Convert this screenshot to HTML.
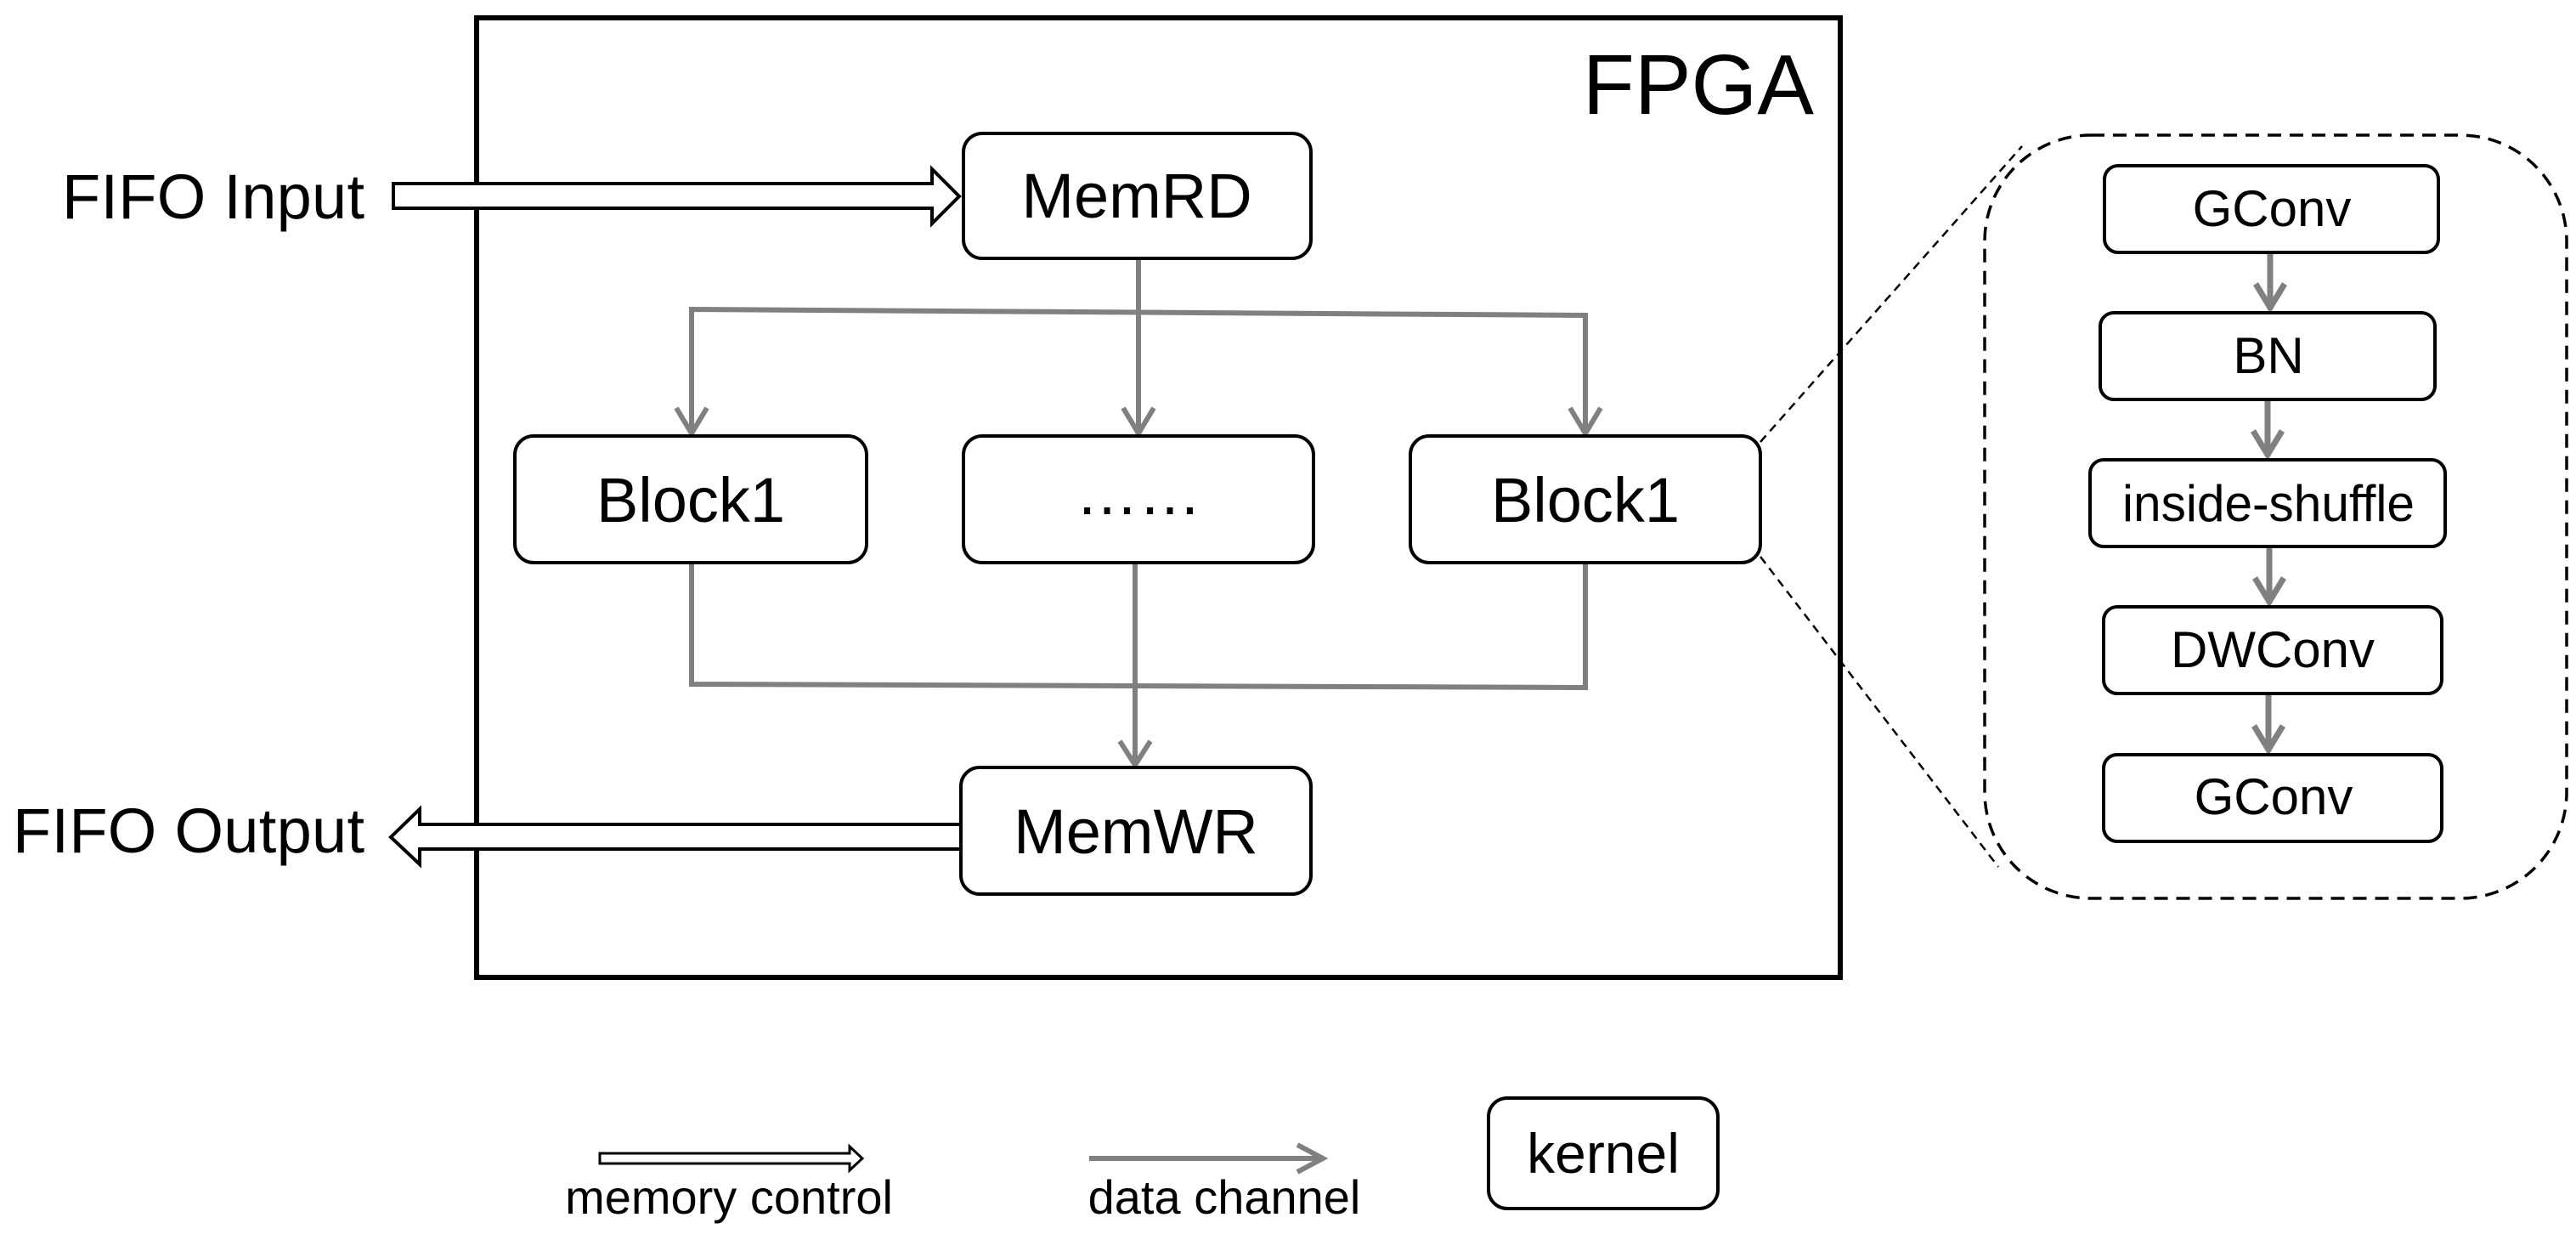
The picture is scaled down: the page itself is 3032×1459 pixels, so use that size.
<!DOCTYPE html>
<html><head><style>
html,body{margin:0;padding:0;background:#fff;}
svg{display:block;}
text{font-family:"Liberation Sans",Arial,sans-serif;fill:#000;}
</style></head><body>
<svg width="3032" height="1459" viewBox="0 0 3032 1459" xmlns="http://www.w3.org/2000/svg">
<!-- FPGA box -->
<rect x="561" y="21" width="1605" height="1129" fill="none" stroke="#000" stroke-width="6"/>
<text x="2135" y="134" font-size="100" text-anchor="end">FPGA</text>

<!-- FIFO input -->
<text x="73" y="257" font-size="74" textLength="356">FIFO Input</text>
<polygon points="463,216 1097,216 1097,199 1129,231 1097,263 1097,245 463,245" fill="#fff" stroke="#000" stroke-width="4"/>
<!-- FIFO output -->
<text x="15" y="1003" font-size="74" textLength="414">FIFO Output</text>
<polygon points="1131,970 494,970 494,952 460,985 494,1017 494,999 1131,999" fill="#fff" stroke="#000" stroke-width="4"/>

<!-- gray connectors -->
<g stroke="#808080" stroke-width="6" fill="none">
<line x1="1340" y1="304" x2="1340" y2="505"/>
<polyline points="814,505 814,364 1866,371 1866,505"/>
<polyline points="814,662 814,805 1866,809 1866,662"/>
<line x1="1336" y1="662" x2="1336" y2="897"/>
<polyline points="796,480 814,510 832,480"/>
<polyline points="1322,480 1340,510 1358,480"/>
<polyline points="1848,480 1866,510 1884,480"/>
<polyline points="1318,872 1336,900 1354,872"/>
</g>

<!-- kernel boxes -->
<g fill="#fff" stroke="#000" stroke-width="4">
<rect x="1134" y="157" width="409" height="147" rx="22"/>
<rect x="606" y="513" width="414" height="149" rx="22"/>
<rect x="1134" y="513" width="412" height="149" rx="22"/>
<rect x="1660" y="513" width="412" height="149" rx="22"/>
<rect x="1131" y="903" width="412" height="149" rx="22"/>
</g>
<g font-size="74" text-anchor="middle">
<text x="1338" y="256">MemRD</text>
<text x="813" y="614">Block1</text>
<text x="1340" y="605">……</text>
<text x="1866" y="614">Block1</text>
<text x="1337" y="1004">MemWR</text>
</g>

<!-- zoom dashed lines -->
<g stroke="#000" stroke-width="2.5" stroke-dasharray="10,7" fill="none">
<line x1="2072" y1="520" x2="2380" y2="172"/>
<line x1="2072" y1="655" x2="2352" y2="1020"/>
<rect x="2336" y="159" width="685" height="898" rx="125" stroke-width="3.5" stroke-dasharray="16,10"/>
</g>

<!-- inner chain -->
<g stroke="#808080" stroke-width="7" fill="none">
<line x1="2672" y1="297" x2="2672" y2="364"/>
<line x1="2669" y1="470" x2="2669" y2="537"/>
<line x1="2671" y1="643" x2="2671" y2="710"/>
<line x1="2670" y1="816" x2="2670" y2="884"/>
<polyline points="2655,334 2672,362 2689,334"/>
<polyline points="2652,507 2669,535 2686,507"/>
<polyline points="2654,680 2671,708 2688,680"/>
<polyline points="2653,854 2670,882 2687,854"/>
</g>
<g fill="#fff" stroke="#000" stroke-width="4">
<rect x="2477" y="195" width="393" height="102" rx="16"/>
<rect x="2472" y="368" width="394" height="102" rx="16"/>
<rect x="2460" y="541" width="418" height="102" rx="16"/>
<rect x="2476" y="714" width="398" height="102" rx="16"/>
<rect x="2476" y="888" width="398" height="102" rx="16"/>
</g>
<g font-size="60" text-anchor="middle">
<text x="2674" y="266">GConv</text>
<text x="2670" y="439">BN</text>
<text x="2670" y="613" textLength="344" lengthAdjust="spacingAndGlyphs">inside-shuffle</text>
<text x="2675" y="785">DWConv</text>
<text x="2676" y="958">GConv</text>
</g>

<!-- legend -->
<polygon points="706,1357 1000,1357 1000,1349 1015,1363 1000,1377 1000,1369 706,1369" fill="#fff" stroke="#000" stroke-width="3"/>
<g stroke="#808080" stroke-width="6" fill="none">
<line x1="1282" y1="1363" x2="1555" y2="1363"/>
<polyline points="1527,1347 1557,1363 1527,1379"/>
</g>
<rect x="1752" y="1292" width="270" height="130" rx="22" fill="#fff" stroke="#000" stroke-width="4"/>
<text x="1887" y="1380" font-size="66" text-anchor="middle">kernel</text>
<text x="858" y="1428" font-size="56" text-anchor="middle">memory control</text>
<text x="1441" y="1428" font-size="56" text-anchor="middle">data channel</text>
</svg>
</body></html>
